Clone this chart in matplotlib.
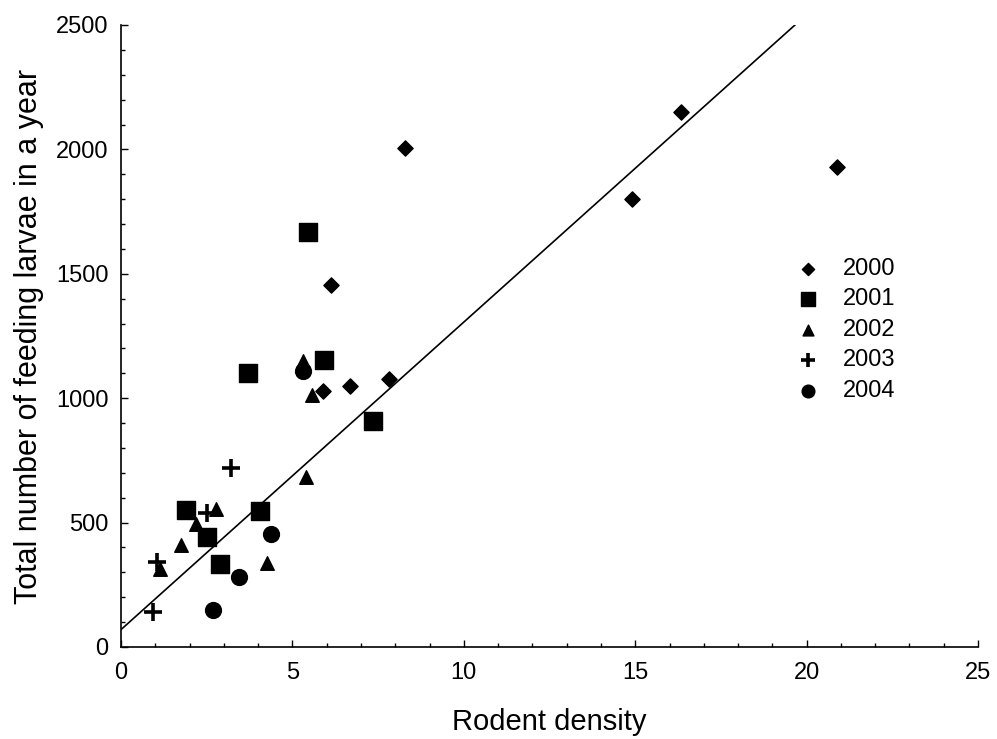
import matplotlib
matplotlib.use("Agg")
import matplotlib.pyplot as plt
import numpy as np
from matplotlib.ticker import MultipleLocator

plt.rcParams['font.family'] = ['Liberation Sans', 'DejaVu Sans']

years = ["2000", "2001", "2002", "2003", "2004"]
x2000 = [5.90, 6.68, 7.83, 6.13, 8.28, 14.91, 16.34, 20.89]
y2000 = [1029, 1050, 1076, 1455, 2005, 1800, 2150, 1929]
x2001 = [3.71, 5.93, 7.36, 5.44, 1.89, 2.50, 4.05, 2.89]
y2001 = [1102, 1153, 908, 1667, 551, 443, 547, 332]
x2002 = [5.30, 5.56, 5.40, 2.77, 2.19, 1.75, 1.14, 4.25]
y2002 = [1150, 1013, 685, 555, 493, 410, 312, 336]
x2003 = [3.21, 2.52, 1.06, 0.94]
y2003 = [721, 537, 340, 142]
x2004 = [5.30, 4.38, 3.45, 2.67]
y2004 = [1110, 453, 280, 149]
fit_intercept = 70
fit_slope = 123.6

fig = plt.figure(figsize=(9.97, 7.39), dpi=100)
ax = fig.add_axes([0.1214, 0.1245, 0.8596, 0.8417])

ax.scatter(x2000, y2000, marker='D', s=60, c='black', label=years[0], zorder=3)
ax.scatter(x2001, y2001, marker='s', s=150, c='black', label=years[1], zorder=3)
ax.scatter(x2002, y2002, marker='^', s=95, c='black', label=years[2], zorder=3)
ax.scatter(x2003, y2003, marker='+', s=170, c='black', linewidths=2.6, label=years[3], zorder=3)
ax.scatter(x2004, y2004, marker='o', s=130, c='black', label=years[4], zorder=3)

xs = np.array([0, 25])
ax.plot(xs, fit_intercept + fit_slope * xs, color='black', lw=1.2, zorder=2)

ax.set_xlim(0, 25)
ax.set_ylim(0, 2500)
ax.xaxis.set_major_locator(MultipleLocator(5))
ax.xaxis.set_minor_locator(MultipleLocator(1))
ax.yaxis.set_major_locator(MultipleLocator(500))
ax.yaxis.set_minor_locator(MultipleLocator(100))
ax.tick_params(which='both', direction='in', labelsize=17, width=1)
ax.tick_params(axis='x', which='major', length=5, pad=11)
ax.tick_params(axis='y', which='major', length=5, pad=9)
ax.tick_params(which='minor', length=3)
for s in ['top', 'right']:
    ax.spines[s].set_visible(False)
for s in ['left', 'bottom']:
    ax.spines[s].set_linewidth(1.2)

ax.set_xlabel("Rodent density", fontsize=21, labelpad=17)
ax.set_ylabel("Total number of feeding larvae in a year", fontsize=22, labelpad=9)

leg = ax.legend(loc='upper left', bbox_to_anchor=(0.749, 0.66), frameon=False,
                fontsize=17, handletextpad=0.5, labelspacing=0.36, scatterpoints=1,
                markerscale=0.8)

fig.savefig("out.png", dpi=100)
